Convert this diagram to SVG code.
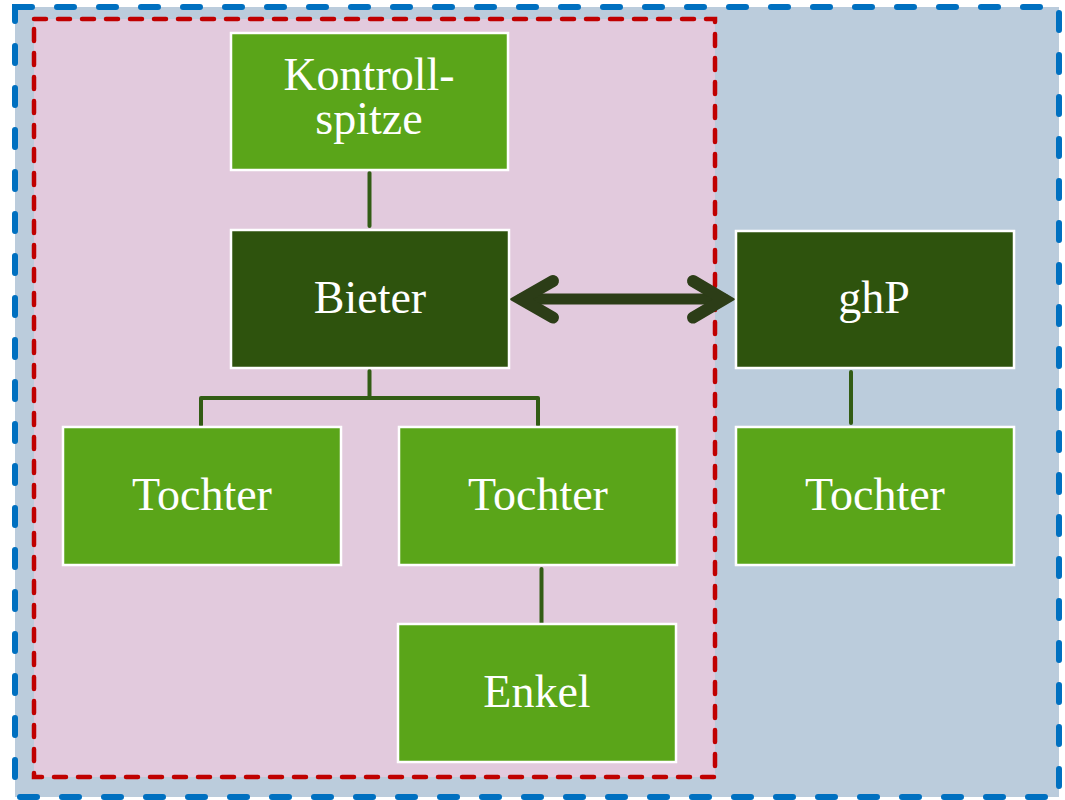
<svg xmlns="http://www.w3.org/2000/svg" width="1065" height="800" viewBox="0 0 1065 800">
<style>
.node rect{stroke:#ffffff;stroke-width:2.5}
.light rect{fill:#5AA519}
.dark rect{fill:#2E530D}
.node text{font-family:"Liberation Serif","Times New Roman",serif;font-size:46px;fill:#ffffff;text-anchor:middle}
.conn{stroke:#325C14;stroke-width:4;fill:none;stroke-linecap:round;stroke-linejoin:round}
.dbl{stroke:#2C3D17;fill:none;stroke-linecap:round;stroke-linejoin:miter;stroke-miterlimit:6}
</style>
<rect width="1065" height="800" fill="#ffffff"/>
<g id="outer-group">
<rect x="15" y="7" width="1044" height="790" fill="#BBCCDC" stroke="#0070C0" stroke-width="6" stroke-dasharray="17 25" stroke-linecap="round"/>
</g>
<g id="inner-group">
<rect x="34" y="19" width="681" height="758" fill="#E2CADD" stroke="#C00000" stroke-width="4.5" stroke-dasharray="12 12" stroke-linecap="round"/>
</g>
<g id="connectors">
<path class="conn" d="M369.5,173 V226"/>
<path class="conn" d="M369.5,371 V398 M201,425 V398 H538 V425"/>
<path class="conn" d="M541.5,569 V623"/>
<path class="conn" d="M851,372 V423"/>
<path class="dbl" stroke-width="11" d="M521,299 H724"/>
<path class="dbl" stroke-width="12" d="M553,281 L521,299.3 L553,317.6 M693,281 L724,299.3 L693,317.6"/>
</g>
<g id="kontrollspitze" class="node light">
<rect x="231" y="33" width="277" height="137"/>
<text x="369" y="90">Kontroll-</text>
<text x="369" y="134">spitze</text>
</g>
<g id="bieter" class="node dark">
<rect x="231" y="230" width="278" height="138"/>
<text x="370" y="313">Bieter</text>
</g>
<g id="ghp" class="node dark">
<rect x="736" y="231" width="278" height="137"/>
<text x="874" y="313">ghP</text>
</g>
<g id="tochter1" class="node light">
<rect x="63" y="427" width="278" height="138"/>
<text x="202" y="510">Tochter</text>
</g>
<g id="tochter2" class="node light">
<rect x="399" y="427" width="278" height="138"/>
<text x="538" y="510">Tochter</text>
</g>
<g id="tochter3" class="node light">
<rect x="736" y="427" width="278" height="138"/>
<text x="875" y="510">Tochter</text>
</g>
<g id="enkel" class="node light">
<rect x="398" y="624" width="278" height="138"/>
<text x="537" y="707">Enkel</text>
</g>
</svg>
